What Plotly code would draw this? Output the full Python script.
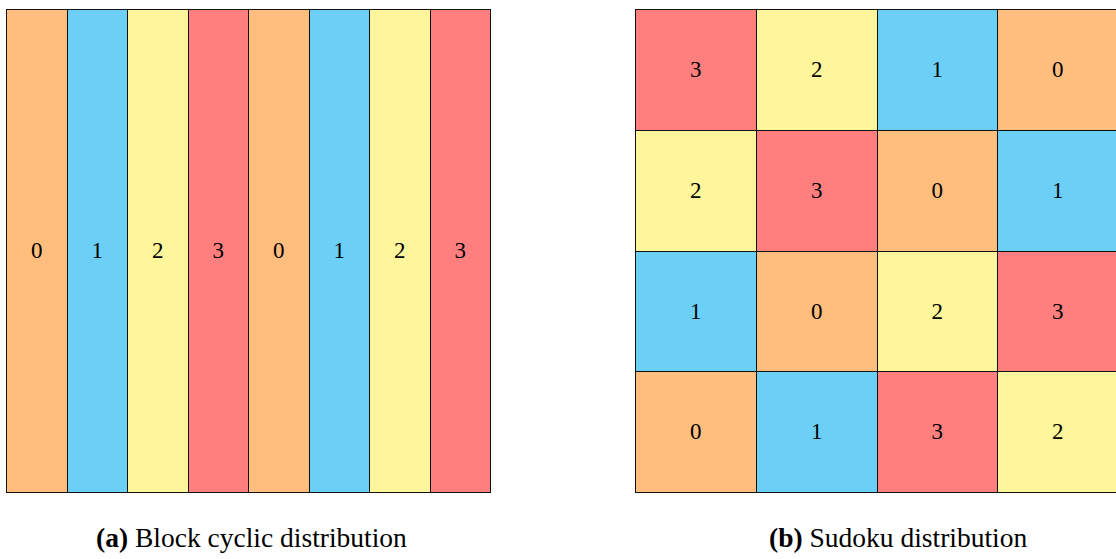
"""Block cyclic vs Sudoku distribution of tiles over 4 processes."""
import plotly.graph_objects as go

W, H = 1116, 559

# owner colours (process id -> fill)
owner_colors = ["#FFBE7E", "#6CCFF6", "#FFF59B", "#FF7F7F"]

# (a) block cyclic: one column per block
block_cols = [0, 1, 2, 3, 4, 5, 6, 7]
block_owner = [0, 1, 2, 3, 0, 1, 2, 3]

# (b) sudoku: rows listed bottom -> top
sudoku_cols = [0, 1, 2, 3]
sudoku_rows = [
    [0, 1, 3, 2],
    [1, 0, 2, 3],
    [2, 3, 0, 1],
    [3, 2, 1, 0],
]

captions = ["<b>(a)</b> Block cyclic distribution", "<b>(b)</b> Sudoku distribution"]

FONT = "Liberation Serif, Times New Roman, serif"
cell_font = dict(family=FONT, size=23, color="black")
edge = dict(color="#111111", width=1.3)

fig = go.Figure()

fig.add_trace(go.Bar(
    x=block_cols, y=[1] * len(block_cols), width=1,
    marker=dict(color=[owner_colors[o] for o in block_owner], line=edge),
    text=[str(o) for o in block_owner], textposition="inside",
    insidetextanchor="middle", textangle=0, textfont=cell_font,
    xaxis="x", yaxis="y", showlegend=False, hoverinfo="skip",
))

for row in sudoku_rows:
    fig.add_trace(go.Bar(
        x=sudoku_cols, y=[1] * len(sudoku_cols), width=1,
        marker=dict(color=[owner_colors[o] for o in row], line=edge),
        text=[str(o) for o in row], textposition="inside",
        insidetextanchor="middle", textangle=0, textfont=cell_font,
        xaxis="x2", yaxis="y2", showlegend=False, hoverinfo="skip",
    ))

# panel geometry in pixels (1px padding so the outer borders are not clipped)
top, bottom = 9, 494
y_dom = [(H - bottom) / H, (H - top) / H]
pad_a = 8 / 484          # one pixel in left-panel x units
pad_ay = 1 / 485
cell_b = (bottom - top - 2) / 4
pad_b = 1 / cell_b
right_span = (W - 635) / cell_b  # right panel is cut off by the page edge

hidden = dict(showgrid=False, zeroline=False, showticklabels=False, ticks="", fixedrange=True)
cap_font = dict(family=FONT, size=27.5, color="black")
fig.update_layout(
    width=W, height=H,
    margin=dict(l=0, r=0, t=0, b=0),
    barmode="stack", bargap=0,
    plot_bgcolor="white", paper_bgcolor="white",
    font=dict(family=FONT),
    xaxis=dict(domain=[6 / W, 492 / W], range=[-0.5 - pad_a, 7.5 + pad_a], **hidden),
    yaxis=dict(domain=y_dom, range=[-pad_ay, 1 + pad_ay], **hidden),
    xaxis2=dict(domain=[635 / W, 1], range=[-0.5 - pad_b, -0.5 - pad_b + right_span],
                anchor="y2", **hidden),
    yaxis2=dict(domain=y_dom, range=[-pad_b, 4 + pad_b], anchor="x2", **hidden),
    annotations=[
        dict(text=captions[0], x=251 / W, y=(H - 537) / H, xref="paper", yref="paper",
             xanchor="center", yanchor="middle", showarrow=False, font=cap_font),
        dict(text=captions[1], x=898 / W, y=(H - 537) / H, xref="paper", yref="paper",
             xanchor="center", yanchor="middle", showarrow=False, font=cap_font),
    ],
)

fig.write_html(
    "out.html",
    config={"displayModeBar": False},
    post_script="document.body.style.margin='0';",
)
